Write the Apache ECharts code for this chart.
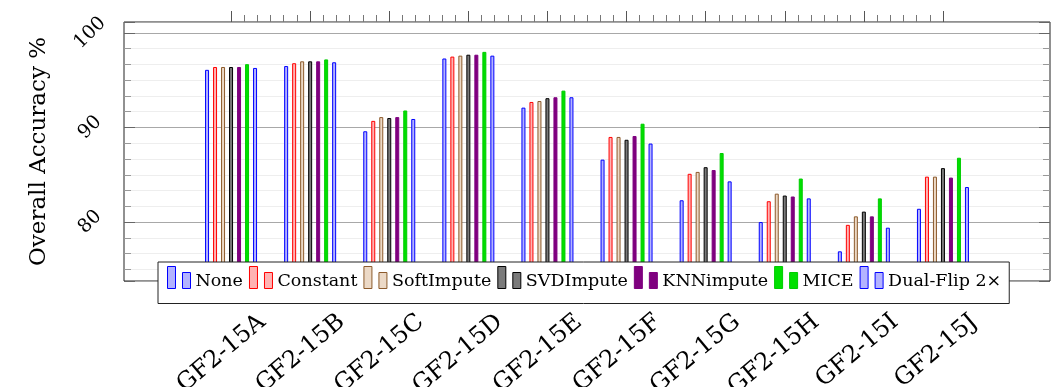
<!DOCTYPE html>
<html>
<head>
<meta charset="utf-8">
<script src="https://cdn.jsdelivr.net/npm/echarts@6/dist/echarts.min.js"></script>
<style>
  html, body { margin: 0; padding: 0; background: #fff; }
  #chart { width: 1059px; height: 387px; }
</style>
</head>
<body>
<div id="chart"></div>
<script>
var categories = ['GF2-15A', 'GF2-15B', 'GF2-15C', 'GF2-15D', 'GF2-15E', 'GF2-15F', 'GF2-15G', 'GF2-15H', 'GF2-15I', 'GF2-15J'];

var noneVals      = [96.1, 96.5, 89.6, 97.3, 92.1, 86.6, 82.3, 80.0, 76.9, 81.4];
var constantVals  = [96.4, 96.8, 90.7, 97.5, 92.7, 89.0, 85.1, 82.2, 79.7, 84.8];
var softVals      = [96.4, 97.0, 91.1, 97.6, 92.8, 89.0, 85.3, 83.0, 80.6, 84.8];
var svdVals       = [96.4, 97.0, 91.0, 97.7, 93.1, 88.7, 85.8, 82.8, 81.1, 85.7];
var knnVals       = [96.4, 97.0, 91.1, 97.7, 93.2, 89.1, 85.5, 82.7, 80.6, 84.7];
var miceVals      = [96.7, 97.2, 91.8, 98.0, 93.9, 90.4, 87.3, 84.6, 82.5, 86.8];
var dualFlipVals  = [96.3, 96.9, 90.9, 97.6, 93.2, 88.3, 84.3, 82.5, 79.4, 83.7];

var seriesNames = ['None', 'Constant', 'SoftImpute', 'SVDImpute', 'KNNimpute', 'MICE', 'Dual-Flip 2×'];
var seriesData = [noneVals, constantVals, softVals, svdVals, knnVals, miceVals, dualFlipVals];
var strokeColors = ['#0000ff', '#ff0000', '#8c5a2b', '#000000', '#7f007f', '#00cc00', '#0000ff'];
var fillColors   = ['#b3b3ff', '#ffb3b3', '#ecd9c6', '#7a7a7a', '#7f007f', '#00e000', '#b3b3ff'];

var yMin = 73.76, yMax = 101.16;
var font = 'DejaVu Serif';
var legendIcon = 'path://M0,0H8V22H0Z M15,6H23V22H15Z';

var chart = echarts.init(document.getElementById('chart'), null, { renderer: 'canvas' });

var series = seriesNames.map(function (name, i) {
  return {
    name: name,
    type: 'bar',
    xAxisIndex: 1,
    yAxisIndex: 2,
    barWidth: 4,
    barGap: '100%',
    silent: true,
    itemStyle: {
      color: fillColors[i],
      borderColor: strokeColors[i],
      borderWidth: 1
    },
    data: seriesData[i]
  };
});

function g(left, right, extra) {
  var o = { left: left, right: right, top: 22, bottom: 106, containLabel: false, outerBoundsMode: 'none' };
  for (var k in extra) o[k] = extra[k];
  return o;
}

chart.setOption({
  backgroundColor: '#fff',
  animation: false,
  textStyle: { fontFamily: font },
  grid: [
    // frame + y grid
    g(124, 9, { show: true, borderColor: '#222', borderWidth: 1, backgroundColor: 'transparent' }),
    // bars
    g(191.5, 76.5),
    // top ticks, group centre to group centre
    g(231, 116),
    // tick labels, shifted a bit to the right like the original
    g(223, 45)
  ],
  xAxis: [
    { gridIndex: 0, type: 'value', min: 0, max: 1, show: false },
    { gridIndex: 1, type: 'category', data: categories, show: false },
    {
      gridIndex: 2,
      type: 'value',
      position: 'top',
      min: 0,
      max: 9,
      interval: 1,
      axisLine: { show: false, onZero: false },
      axisLabel: { show: false },
      splitLine: { show: false },
      axisTick: { show: true, inside: false, length: 11, lineStyle: { color: '#555' } },
      minorTick: { show: true, splitNumber: 6, length: 7, lineStyle: { color: '#777' } }
    },
    {
      gridIndex: 3,
      type: 'category',
      data: categories,
      axisLine: { show: false, onZero: false },
      axisTick: { show: false },
      axisLabel: {
        rotate: 40,
        margin: 38,
        fontSize: 24,
        fontFamily: font,
        color: '#000',
        overflow: 'none',
        hideOverlap: false
      }
    }
  ],
  yAxis: [
    {
      gridIndex: 0,
      type: 'value',
      min: yMin,
      max: yMax,
      splitNumber: 3,
      name: 'Overall Accuracy %',
      nameLocation: 'middle',
      nameGap: 73,
      nameTextStyle: { fontSize: 23, fontFamily: font, color: '#000' },
      axisLine: { show: false },
      axisTick: { show: true, inside: true, length: 11, lineStyle: { color: '#666' } },
      minorTick: { show: true, splitNumber: 6, length: 7, lineStyle: { color: '#999' } },
      splitLine: { show: true, lineStyle: { color: '#a8a8a8' } },
      minorSplitLine: { show: true, lineStyle: { color: '#eeeeee' } },
      axisLabel: {
        rotate: 45,
        align: 'center',
        verticalAlign: 'middle',
        margin: 34,
        fontSize: 19,
        fontFamily: font,
        color: '#000',
        showMinLabel: false,
        showMaxLabel: false
      }
    },
    {
      gridIndex: 0,
      type: 'value',
      position: 'right',
      min: yMin,
      max: yMax,
      splitNumber: 3,
      axisLine: { show: false },
      axisLabel: { show: false },
      splitLine: { show: false },
      axisTick: { show: true, inside: true, length: 11, lineStyle: { color: '#666' } },
      minorTick: { show: true, splitNumber: 6, length: 7, lineStyle: { color: '#999' } }
    },
    { gridIndex: 1, type: 'value', min: yMin, max: yMax, show: false },
    { gridIndex: 2, type: 'value', min: 0, max: 1, show: false },
    { gridIndex: 3, type: 'value', min: 0, max: 1, show: false }
  ],
  legend: {
    data: seriesNames,
    left: 158,
    top: 262,
    orient: 'horizontal',
    icon: legendIcon,
    itemWidth: 23,
    itemHeight: 22,
    itemGap: 6,
    padding: [4, 8, 13, 9],
    backgroundColor: '#fff',
    borderColor: '#222',
    borderWidth: 1,
    borderRadius: 0,
    selectedMode: false,
    itemStyle: { borderWidth: 1 },
    formatter: function (name) { return '{t|' + name + '}'; },
    textStyle: {
      fontSize: 17.5,
      fontFamily: font,
      color: '#000',
      rich: { t: { fontSize: 17.5, fontFamily: font, color: '#000', padding: [8, 0, 0, 0] } }
    }
  },
  series: series
});
</script>
</body>
</html>
